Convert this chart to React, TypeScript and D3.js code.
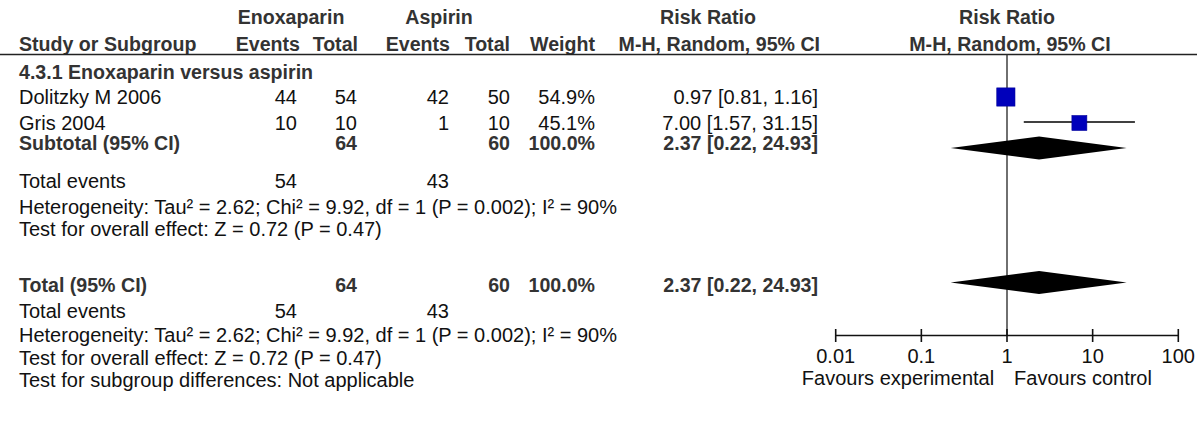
import React from "react";
import * as d3 from "d3";

// ---- Data ----
const subgroupTitle = "4.3.1 Enoxaparin versus aspirin";
const studies = ["Dolitzky M 2006", "Gris 2004"];
const expEvents = [44, 10];
const expTotals = [54, 10];
const ctrlEvents = [42, 1];
const ctrlTotals = [50, 10];
const weights = [54.9, 45.1];
const riskRatios = [0.97, 7.0];
const ciLower = [0.81, 1.57];
const ciUpper = [1.16, 31.15];

const pooledRR = [2.37];
const pooledLower = [0.22];
const pooledUpper = [24.93];
const pooledExpTotal = 64;
const pooledCtrlTotal = 60;
const pooledExpEvents = 54;
const pooledCtrlEvents = 43;
const heterogeneityText = "Heterogeneity: Tau² = 2.62; Chi² = 9.92, df = 1 (P = 0.002); I² = 90%";
const overallEffectText = "Test for overall effect: Z = 0.72 (P = 0.47)";
const subgroupDiffText = "Test for subgroup differences: Not applicable";

const axisTicks = [0.01, 0.1, 1, 10, 100];
const axisTickLabels = ["0.01", "0.1", "1", "10", "100"];
const favoursLeft = "Favours experimental";
const favoursRight = "Favours control";

// ---- Layout ----
const W = 1200;
const H = 432;
const FONT = "'Liberation Sans', Arial, Helvetica, sans-serif";
const FS = 20;
const FSB = 19.6;
const BOLD = "#333333";
const TXT = "#111111";
const SQUARE = "#0000bb";

const col = {
  label: 19,
  expEv: 297,
  expTot: 357,
  ctrlEv: 449,
  ctrlTot: 510,
  weight: 595,
  ci: 818,
};

const rowY = {
  head1: 17,
  head2: 44,
  rule: 54.5,
  subgroup: 72,
  studies: [97, 123],
  subtotal: 143,
  subtotalDiamond: 148,
  totEv1: 181,
  het1: 207,
  test1: 229,
  total: 285,
  totalDiamond: 282.5,
  totEv2: 311,
  het2: 335,
  test2: 358,
  subDiff: 380,
  axis: 335.5,
  tickLabel: 356,
  favours: 378,
};

const fmt2 = d3.format(".2f");
const fmtW = d3.format(".1f");
const ciText = (rr: number, lo: number, hi: number) => `${fmt2(rr)} [${fmt2(lo)}, ${fmt2(hi)}]`;

export default function App() {
  const x = d3.scaleLog().domain([0.01, 100]).range([835.7, 1178.3]);
  const sizeScale = d3.scaleLinear().domain([0, 100]).range([0, 33.2]);
  const diamondH = 23;

  const T = (props: any) => (
    <text
      fontFamily={FONT}
      fontSize={props.bold ? FSB : FS}
      dominantBaseline="central"
      fill={props.bold ? BOLD : TXT}
      fontWeight={props.bold ? "bold" : "normal"}
      x={props.x}
      y={props.y}
      textAnchor={props.anchor || "start"}
    >
      {props.children}
    </text>
  );

  const diamond = (rr: number, lo: number, hi: number, cy: number) =>
    `M${x(lo)},${cy} L${x(rr)},${cy - diamondH / 2} L${x(hi)},${cy} L${x(rr)},${cy + diamondH / 2} Z`;

  const summaryBlock = (yEv: number, yHet: number, yTest: number) => (
    <g>
      <T x={col.label} y={yEv}>Total events</T>
      <T x={col.expEv} y={yEv} anchor="end">{pooledExpEvents}</T>
      <T x={col.ctrlEv} y={yEv} anchor="end">{pooledCtrlEvents}</T>
      <T x={col.label} y={yHet}>{heterogeneityText}</T>
      <T x={col.label} y={yTest}>{overallEffectText}</T>
    </g>
  );

  return (
    <svg width={W} height={H} style={{ position: "absolute", left: 0, top: 0, background: "#fff" }}>
      <rect width={W} height={H} fill="#fff" />
      {/* headers */}
      <T bold x={291} y={rowY.head1} anchor="middle">Enoxaparin</T>
      <T bold x={439} y={rowY.head1} anchor="middle">Aspirin</T>
      <T bold x={708} y={rowY.head1} anchor="middle">Risk Ratio</T>
      <T bold x={1007} y={rowY.head1} anchor="middle">Risk Ratio</T>

      <T bold x={col.label} y={rowY.head2}>Study or Subgroup</T>
      <T bold x={300} y={rowY.head2} anchor="end">Events</T>
      <T bold x={358} y={rowY.head2} anchor="end">Total</T>
      <T bold x={450} y={rowY.head2} anchor="end">Events</T>
      <T bold x={510} y={rowY.head2} anchor="end">Total</T>
      <T bold x={595} y={rowY.head2} anchor="end">Weight</T>
      <T bold x={820} y={rowY.head2} anchor="end">M-H, Random, 95% CI</T>
      <T bold x={1010} y={rowY.head2} anchor="middle">M-H, Random, 95% CI</T>

      <line x1={0} x2={1197} y1={rowY.rule} y2={rowY.rule} stroke="#222" strokeWidth={1.6} />

      <T bold x={col.label} y={rowY.subgroup}>{subgroupTitle}</T>

      {/* null line */}
      <line x1={x(1)} x2={x(1)} y1={rowY.rule} y2={rowY.axis} stroke="#333" strokeWidth={1.4} />

      {studies.map((s, i) => {
        const y = rowY.studies[i];
        const sz = sizeScale(weights[i]);
        return (
          <g key={s}>
            <T x={col.label} y={y}>{s}</T>
            <T x={col.expEv} y={y} anchor="end">{expEvents[i]}</T>
            <T x={col.expTot} y={y} anchor="end">{expTotals[i]}</T>
            <T x={col.ctrlEv} y={y} anchor="end">{ctrlEvents[i]}</T>
            <T x={col.ctrlTot} y={y} anchor="end">{ctrlTotals[i]}</T>
            <T x={col.weight} y={y} anchor="end">{fmtW(weights[i])}%</T>
            <T x={col.ci} y={y} anchor="end">{ciText(riskRatios[i], ciLower[i], ciUpper[i])}</T>
            <line x1={x(ciLower[i])} x2={x(ciUpper[i])} y1={y - 1} y2={y - 1} stroke="#000" strokeWidth={1.6} />
            <rect
              x={x(riskRatios[i]) - sz / 2}
              y={y - sz / 2}
              width={sz}
              height={sz}
              fill={SQUARE}
              stroke="#00009a"
              strokeWidth={0.6}
            />
          </g>
        );
      })}

      {/* subtotal */}
      <T bold x={col.label} y={rowY.subtotal}>Subtotal (95% CI)</T>
      <T bold x={col.expTot} y={rowY.subtotal} anchor="end">{pooledExpTotal}</T>
      <T bold x={col.ctrlTot} y={rowY.subtotal} anchor="end">{pooledCtrlTotal}</T>
      <T bold x={col.weight} y={rowY.subtotal} anchor="end">100.0%</T>
      <T bold x={col.ci} y={rowY.subtotal} anchor="end">{ciText(pooledRR[0], pooledLower[0], pooledUpper[0])}</T>
      <path d={diamond(pooledRR[0], pooledLower[0], pooledUpper[0], rowY.subtotalDiamond)} fill="#000" />
      {summaryBlock(rowY.totEv1, rowY.het1, rowY.test1)}

      {/* total */}
      <T bold x={col.label} y={rowY.total}>Total (95% CI)</T>
      <T bold x={col.expTot} y={rowY.total} anchor="end">{pooledExpTotal}</T>
      <T bold x={col.ctrlTot} y={rowY.total} anchor="end">{pooledCtrlTotal}</T>
      <T bold x={col.weight} y={rowY.total} anchor="end">100.0%</T>
      <T bold x={col.ci} y={rowY.total} anchor="end">{ciText(pooledRR[0], pooledLower[0], pooledUpper[0])}</T>
      <path d={diamond(pooledRR[0], pooledLower[0], pooledUpper[0], rowY.totalDiamond)} fill="#000" />
      {summaryBlock(rowY.totEv2, rowY.het2, rowY.test2)}
      <T x={col.label} y={rowY.subDiff}>{subgroupDiffText}</T>

      {/* axis */}
      <line x1={x(0.01)} x2={x(100)} y1={rowY.axis} y2={rowY.axis} stroke="#111" strokeWidth={1.6} />
      {axisTicks.map((t, i) => (
        <g key={t}>
          <line x1={x(t)} x2={x(t)} y1={rowY.axis - 6.5} y2={rowY.axis + 6.5} stroke="#111" strokeWidth={1.6} />
          <T x={x(t)} y={rowY.tickLabel} anchor="middle">{axisTickLabels[i]}</T>
        </g>
      ))}
      <T x={898} y={rowY.favours} anchor="middle">{favoursLeft}</T>
      <T x={1083} y={rowY.favours} anchor="middle">{favoursRight}</T>
    </svg>
  );
}
